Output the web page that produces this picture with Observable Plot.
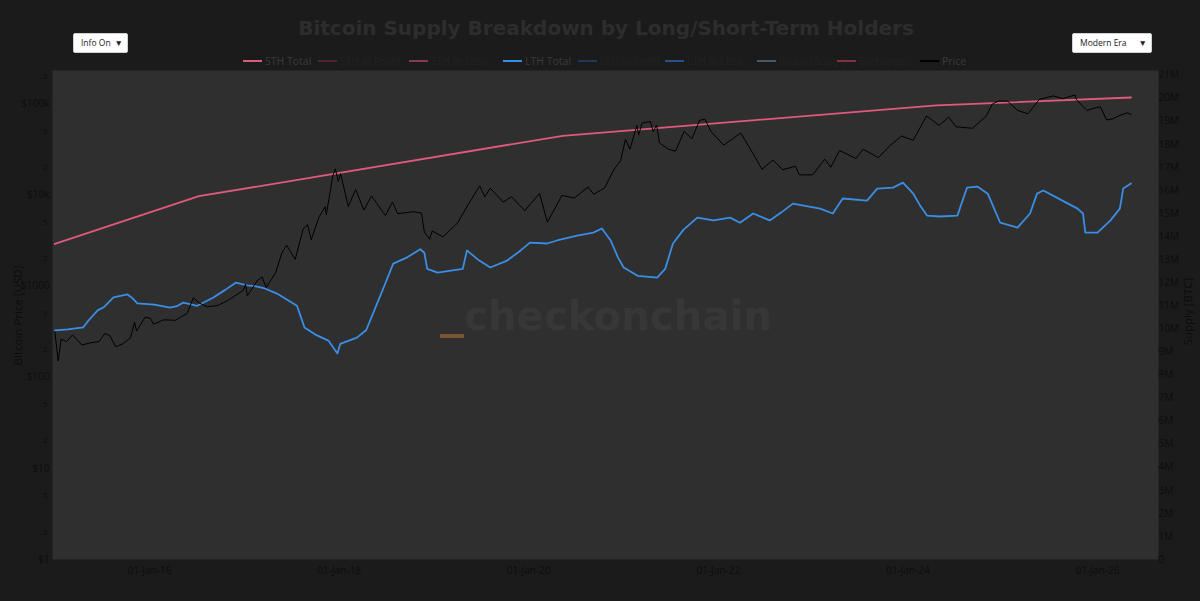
<!DOCTYPE html>
<html>
<head>
<meta charset="utf-8">
<script src="https://cdn.jsdelivr.net/npm/d3@7"></script>
<script src="https://cdn.jsdelivr.net/npm/@observablehq/plot@0.6"></script>
<style>
  html, body { margin: 0; padding: 0; background: #1b1b1b; }
  #wrap { position: relative; width: 1200px; height: 601px; overflow: hidden; background: #1b1b1b; font-family: "Open Sans", "DejaVu Sans", sans-serif; }
  #chart { position: absolute; left: 0; top: 0; }
  .title { position: absolute; left: 0; width: 1212px; top: 16px; text-align: center; font: bold 20px "DejaVu Sans", sans-serif; color: #2d2d2d; }
  .dd { position: absolute; top: 33px; height: 20px; background: #fff; border: 1px solid #d0d0d0; border-radius: 2px; box-sizing: border-box; font: 8.5px "Open Sans", sans-serif; color: #222; line-height: 18px; padding-left: 7px; }
  .dd span { position: absolute; right: 4px; top: 0; font-size: 8.5px; }
  .leg { position: absolute; top: 54px; height: 14px; font: 10.5px "Open Sans", sans-serif; white-space: nowrap; line-height: 14px; }
  .leg i { display: inline-block; width: 19px; height: 2px; vertical-align: middle; margin-right: 3px; position: relative; top: -1px; }
  .ytitle { position: absolute; font: 11.5px "Open Sans", sans-serif; color: #0c0c0c; white-space: nowrap; transform: rotate(-90deg); transform-origin: center center; }
  .wm { position: absolute; left: 464px; top: 293px; font: bold 40px "DejaVu Sans", sans-serif; color: #373737; letter-spacing: 0.2px; }
  .logo { position: absolute; left: 440px; top: 334px; width: 24px; height: 4px; background: #7b5532; }
</style>
</head>
<body>
<div id="wrap">
  <div id="chart"></div>
  <div class="wm">checkonchain</div>
  <div class="logo"></div>
  <div class="title">Bitcoin Supply Breakdown by Long/Short-Term Holders</div>
  <div class="dd" style="left:73px;width:55px;">Info On<span>▼</span></div>
  <div class="dd" style="left:1072px;width:80px;">Modern Era<span>▼</span></div>
  <div id="legend"></div>
  <div class="ytitle" style="left:-38px; top:308px; width:110px; text-align:center;">Bitcoin Price [USD]</div>
  <div class="ytitle" style="left:1142px; top:304px; width:90px; text-align:center;">Supply [BTC]</div>
</div>
<script>
// ---------- data ----------
const totalDates  = ["2015-01-01","2016-07-09","2020-05-11","2024-04-20","2026-05-10"];
const totalSupply = [13.68, 15.75, 18.37, 19.69, 20.03]; // millions BTC (STH + LTH stacked)

const lthDates = [
 "2015-01-01","2015-02-20","2015-04-20","2015-05-10","2015-06-15","2015-07-10","2015-08-15","2015-10-08","2015-10-25","2015-11-15",
 "2016-01-20","2016-03-20","2016-04-15","2016-05-10","2016-07-03","2016-09-03","2016-10-20","2016-11-28","2017-01-12","2017-02-10",
 "2017-03-20","2017-05-06","2017-07-22","2017-08-05","2017-08-20","2017-10-01","2017-11-20","2017-12-25","2018-01-05","2018-03-10",
 "2018-04-15","2018-05-11","2018-06-25","2018-07-28","2018-09-20","2018-11-09","2018-11-25","2018-12-06","2019-01-15","2019-04-22",
 "2019-05-08","2019-06-20","2019-08-06","2019-10-10","2019-12-01","2020-01-06","2020-03-12","2020-04-19","2020-07-06","2020-09-06",
 "2020-10-09","2020-11-12","2020-12-10","2021-01-01","2021-02-24","2021-05-10","2021-06-10","2021-07-10","2021-08-20","2021-10-12",
 "2021-12-13","2022-02-15","2022-03-25","2022-05-15","2022-07-18","2022-09-01","2022-10-15","2023-01-28","2023-03-18","2023-04-25",
 "2023-07-28","2023-09-05","2023-11-05","2023-12-13","2024-01-22","2024-02-20","2024-03-15","2024-05-04","2024-07-10","2024-08-16",
 "2024-09-25","2024-11-04","2024-12-22","2025-02-27","2025-04-16","2025-05-13","2025-06-06","2025-07-28","2025-10-16","2025-11-06",
 "2025-11-15","2026-01-01","2026-02-20","2026-03-28","2026-04-10","2026-05-10"];
const lthSupply = [
 9.93, 9.98, 10.06, 10.35, 10.8, 10.95, 11.36, 11.49, 11.35, 11.1,
 11.05, 10.92, 10.98, 11.14, 11.0, 11.36, 11.7, 12.0, 11.88, 11.85,
 11.75, 11.53, 11.0, 10.55, 10.06, 9.75, 9.49, 8.93, 9.35, 9.62,
 9.95, 10.66, 11.9, 12.83, 13.1, 13.45, 13.3, 12.6, 12.44, 12.6,
 13.4, 13.0, 12.66, 12.96, 13.4, 13.74, 13.7, 13.83, 14.04, 14.17,
 14.35, 13.83, 13.1, 12.66, 12.3, 12.22, 12.6, 13.7, 14.3, 14.82,
 14.7, 14.82, 14.6, 15.0, 14.7, 15.05, 15.43, 15.21, 15.0, 15.65,
 15.56, 16.08, 16.12, 16.34, 15.86, 15.3, 14.91, 14.87, 14.91, 16.12,
 16.17, 15.86, 14.6, 14.39, 15.0, 15.86, 16.0, 15.69, 15.21, 15.0,
 14.17, 14.17, 14.7, 15.21, 16.08, 16.3];

const priceDates = [
 "2015-01-01","2015-01-14","2015-01-25","2015-02-15","2015-03-10","2015-04-15","2015-05-20","2015-06-20","2015-07-12","2015-08-01",
 "2015-08-24","2015-09-20","2015-10-20","2015-11-04","2015-11-12","2015-12-15","2016-01-05","2016-01-16","2016-02-25","2016-04-10",
 "2016-05-25","2016-06-18","2016-07-10","2016-08-10","2016-09-20","2016-10-28","2016-12-28","2017-01-05","2017-01-12","2017-02-20",
 "2017-03-10","2017-03-25","2017-05-01","2017-05-25","2017-06-12","2017-07-15","2017-08-15","2017-09-01","2017-09-15","2017-10-15",
 "2017-11-08","2017-11-12","2017-12-07","2017-12-17","2017-12-28","2018-01-06","2018-02-05","2018-03-05","2018-04-06","2018-05-05",
 "2018-06-28","2018-07-25","2018-08-14","2018-10-15","2018-11-14","2018-11-25","2018-12-15","2018-12-25","2019-02-05","2019-04-02",
 "2019-05-15","2019-06-26","2019-07-16","2019-08-06","2019-09-25","2019-10-26","2019-12-17","2020-02-12","2020-03-13","2020-05-08",
 "2020-06-25","2020-08-17","2020-09-08","2020-10-20","2020-11-25","2020-12-20","2021-01-08","2021-01-25","2021-02-21","2021-02-28",
 "2021-03-13","2021-04-14","2021-04-25","2021-05-08","2021-05-19","2021-06-22","2021-07-20","2021-08-22","2021-09-21","2021-10-20",
 "2021-11-10","2021-12-04","2022-01-22","2022-03-28","2022-05-12","2022-06-18","2022-07-30","2022-09-06","2022-10-25","2022-11-09",
 "2022-12-30","2023-02-15","2023-03-10","2023-04-13","2023-06-15","2023-07-13","2023-09-10","2023-10-24","2023-12-08","2024-01-22",
 "2024-03-13","2024-05-01","2024-06-06","2024-07-05","2024-09-06","2024-10-29","2024-11-22","2024-12-17","2025-01-20","2025-02-27",
 "2025-04-08","2025-05-22","2025-07-14","2025-08-20","2025-10-06","2025-10-12","2025-11-21","2025-12-15","2026-01-12","2026-02-05",
 "2026-03-01","2026-03-28","2026-04-25","2026-05-10"];
const priceValues = [
 315, 150, 260, 245, 290, 225, 238, 245, 300, 285,
 215, 232, 270, 400, 320, 455, 440, 380, 425, 420,
 500, 740, 650, 590, 610, 690, 900, 1050, 780, 1150,
 1250, 960, 1400, 2300, 2800, 1950, 4200, 4700, 3200, 5700,
 7400, 6000, 16000, 19200, 14000, 17000, 7400, 11400, 6800, 9700,
 5900, 8300, 6200, 6500, 6300, 3900, 3250, 4000, 3450, 4900,
 8000, 12500, 9500, 11800, 8300, 9500, 6700, 10300, 5000, 9800,
 9200, 12100, 10100, 11900, 19000, 23500, 40500, 31500, 57500, 45000,
 61000, 63500, 49000, 58000, 37000, 31500, 30000, 49500, 41000, 65000,
 67500, 49000, 35000, 47500, 29000, 19000, 24000, 18800, 20500, 16500,
 16500, 24500, 20000, 30500, 25000, 31500, 25500, 34500, 44000, 39500,
 73000, 57500, 71000, 55500, 53500, 72500, 99000, 106500, 106000, 84000,
 77000, 111000, 121000, 113000, 124000, 110000, 84000, 88000, 92000, 66000,
 68000, 74000, 79000, 76000];

const xTickDates = ["2016-01-01","2018-01-01","2020-01-01","2022-01-01","2024-01-01","2026-01-01"];
const priceMajorTicks = [1, 10, 100, 1000, 10000, 100000];
const priceMajorLabels = ["$1", "$10", "$100", "$1000", "$10k", "$100k"];
const priceMinorTicks = [2, 5, 20, 50, 200, 500, 2000, 5000, 20000, 50000, 200000];
const priceMinorLabels = ["2", "5", "2", "5", "2", "5", "2", "5", "2", "5", "2"];
const supplyTicks = d3.range(0, 22); // millions
const supplyLabels = supplyTicks.map(m => m === 0 ? "0" : m + "M");

const legendItems = [
 {name: "STH Total",      color: "#d95a79", x: 243, active: true},
 {name: "STH in Profit",  color: "#5e2a3a", x: 318, active: false},
 {name: "STH in Loss",    color: "#a8465f", x: 409, active: false},
 {name: "LTH Total",      color: "#3a8ee6", x: 503, active: true},
 {name: "LTH in Profit",  color: "#243f6e", x: 578, active: false},
 {name: "LTH in Loss",    color: "#2f63b3", x: 665, active: false},
 {name: "Illiquid Supply",color: "#5b6c78", x: 757, active: false},
 {name: "Exchanges",      color: "#9c3c4c", x: 837, active: false},
 {name: "Price",          color: "#000000", x: 920, active: true}
];

// ---------- scales ----------
const PMAX = 230000;            // top of left (log) axis
const SMAX = 21.2;              // top of right axis, millions
const LOGTOP = Math.log10(PMAX);
const s2p = v => Math.pow(10, v / SMAX * LOGTOP);   // supply (M) -> price-space

const parse = d3.utcParse("%Y-%m-%d");
const total = totalDates.map((d, i) => ({date: parse(d), v: s2p(totalSupply[i])}));
const lth = lthDates.map((d, i) => ({date: parse(d), v: s2p(lthSupply[i])}));
const price = priceDates.map((d, i) => ({date: parse(d), v: priceValues[i]}));
const minor = priceMinorTicks.map((t, i) => ({v: t, label: priceMinorLabels[i]}));
const right = supplyTicks.map((t, i) => ({v: s2p(t), label: supplyLabels[i]}));

const tickColor = "#0d0d0d";

const chart = Plot.plot({
  width: 1200,
  height: 601,
  marginLeft: 52,
  marginRight: 42,
  marginTop: 70,
  marginBottom: 42,
  style: {background: "transparent", color: tickColor, fontFamily: "'Open Sans', sans-serif", fontSize: "10px"},
  x: {type: "utc", domain: [parse("2014-12-23"), parse("2026-08-24")]},
  y: {type: "log", domain: [1, PMAX]},
  marks: [
    Plot.frame({fill: "#2f2f2f", stroke: "none"}),
    Plot.axisX({ticks: xTickDates.map(parse), tickFormat: d3.utcFormat("%d-%b-%y"), tickSize: 0, tickPadding: 7, label: null, fill: tickColor, fontSize: 10}),
    Plot.axisY({anchor: "left", ticks: priceMajorTicks, tickFormat: d => priceMajorLabels[priceMajorTicks.indexOf(d)], tickSize: 0, tickPadding: 3, label: null, fill: tickColor, fontSize: 10}),
    Plot.text(minor, {y: "v", text: "label", frameAnchor: "left", textAnchor: "end", dx: -5, fill: tickColor, fontSize: 8}),
    Plot.text(right, {y: "v", text: "label", frameAnchor: "right", textAnchor: "start", dx: 0, fill: tickColor, fontSize: 10}),
    Plot.line(total, {x: "date", y: "v", stroke: "#e05a7b", strokeWidth: 1.8}),
    Plot.line(lth, {x: "date", y: "v", stroke: "#3a8ee6", strokeWidth: 1.8}),
    Plot.line(price, {x: "date", y: "v", stroke: "#000000", strokeWidth: 1})
  ]
});
document.getElementById("chart").appendChild(chart);

// ---------- legend ----------
const leg = document.getElementById("legend");
legendItems.forEach(it => {
  const el = document.createElement("div");
  el.className = "leg";
  el.style.left = it.x + "px";
  el.style.color = it.active ? "#3a3a3a" : "#242424";
  el.style.opacity = it.active ? "1" : "0.75";
  el.innerHTML = `<i style="background:${it.color}"></i>${it.name}`;
  leg.appendChild(el);
});
</script>
</body>
</html>
